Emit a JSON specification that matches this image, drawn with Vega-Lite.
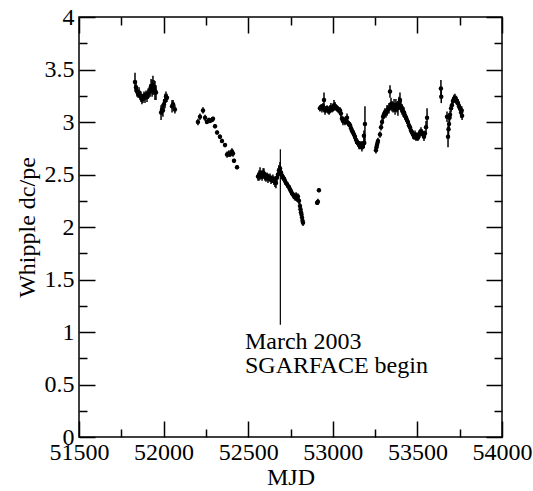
{
  "$schema": "https://vega.github.io/schema/vega-lite/v6.json",
  "width": 423,
  "height": 420,
  "autosize": {"type": "none"},
  "padding": {"left": 79, "top": 17, "right": 31, "bottom": 54},
  "background": "white",
  "datasets": {
    "pts": [
      {"mjd": 51831, "v": 3.38, "e": 0.09}, {"mjd": 51837, "v": 3.33, "e": 0.05}, {"mjd": 51843, "v": 3.29, "e": 0.05},
      {"mjd": 51849, "v": 3.27, "e": 0.04}, {"mjd": 51855, "v": 3.28, "e": 0.05}, {"mjd": 51861, "v": 3.25, "e": 0.04},
      {"mjd": 51866, "v": 3.24, "e": 0.05}, {"mjd": 51872, "v": 3.22, "e": 0.05}, {"mjd": 51878, "v": 3.22, "e": 0.04},
      {"mjd": 51884, "v": 3.25, "e": 0.04}, {"mjd": 51890, "v": 3.23, "e": 0.05}, {"mjd": 51896, "v": 3.26, "e": 0.04},
      {"mjd": 51902, "v": 3.24, "e": 0.05}, {"mjd": 51908, "v": 3.27, "e": 0.05}, {"mjd": 51914, "v": 3.28, "e": 0.05},
      {"mjd": 51920, "v": 3.30, "e": 0.06}, {"mjd": 51926, "v": 3.34, "e": 0.07}, {"mjd": 51932, "v": 3.32, "e": 0.08},
      {"mjd": 51937, "v": 3.35, "e": 0.09}, {"mjd": 51943, "v": 3.33, "e": 0.07}, {"mjd": 51949, "v": 3.30, "e": 0.09},
      {"mjd": 51955, "v": 3.28, "e": 0.07}, {"mjd": 51985, "v": 3.09, "e": 0.07}, {"mjd": 51991, "v": 3.12, "e": 0.05},
      {"mjd": 51996, "v": 3.11, "e": 0.06}, {"mjd": 52002, "v": 3.17, "e": 0.05}, {"mjd": 52008, "v": 3.20, "e": 0.07},
      {"mjd": 52014, "v": 3.24, "e": 0.05}, {"mjd": 52020, "v": 3.23, "e": 0.04}, {"mjd": 52050, "v": 3.15, "e": 0.06},
      {"mjd": 52056, "v": 3.17, "e": 0.04}, {"mjd": 52067, "v": 3.12, "e": 0.04},
      {"mjd": 52203, "v": 3.00, "e": 0.03}, {"mjd": 52215, "v": 3.05, "e": 0.03}, {"mjd": 52233, "v": 3.11, "e": 0.03},
      {"mjd": 52245, "v": 3.04, "e": 0.03}, {"mjd": 52256, "v": 3.00, "e": 0.02}, {"mjd": 52268, "v": 3.02, "e": 0.02},
      {"mjd": 52274, "v": 3.01, "e": 0.02}, {"mjd": 52286, "v": 3.02, "e": 0.02}, {"mjd": 52292, "v": 3.03, "e": 0.02},
      {"mjd": 52304, "v": 2.96, "e": 0.02}, {"mjd": 52316, "v": 2.90, "e": 0.02}, {"mjd": 52333, "v": 2.86, "e": 0.02},
      {"mjd": 52345, "v": 2.82, "e": 0.02}, {"mjd": 52363, "v": 2.78, "e": 0.02}, {"mjd": 52375, "v": 2.69, "e": 0.03},
      {"mjd": 52386, "v": 2.70, "e": 0.03}, {"mjd": 52392, "v": 2.69, "e": 0.02}, {"mjd": 52404, "v": 2.72, "e": 0.03},
      {"mjd": 52410, "v": 2.70, "e": 0.03}, {"mjd": 52416, "v": 2.63, "e": 0.02}, {"mjd": 52434, "v": 2.57, "e": 0.02},
      {"mjd": 52558, "v": 2.48, "e": 0.04}, {"mjd": 52564, "v": 2.49, "e": 0.05}, {"mjd": 52570, "v": 2.51, "e": 0.06},
      {"mjd": 52576, "v": 2.50, "e": 0.04}, {"mjd": 52582, "v": 2.48, "e": 0.04}, {"mjd": 52588, "v": 2.52, "e": 0.04},
      {"mjd": 52593, "v": 2.51, "e": 0.05}, {"mjd": 52599, "v": 2.48, "e": 0.04}, {"mjd": 52605, "v": 2.47, "e": 0.04},
      {"mjd": 52611, "v": 2.49, "e": 0.03}, {"mjd": 52617, "v": 2.46, "e": 0.04}, {"mjd": 52623, "v": 2.47, "e": 0.03},
      {"mjd": 52629, "v": 2.47, "e": 0.04}, {"mjd": 52635, "v": 2.45, "e": 0.04}, {"mjd": 52641, "v": 2.45, "e": 0.03},
      {"mjd": 52646, "v": 2.46, "e": 0.04}, {"mjd": 52652, "v": 2.44, "e": 0.04}, {"mjd": 52658, "v": 2.43, "e": 0.05},
      {"mjd": 52664, "v": 2.42, "e": 0.05}, {"mjd": 52670, "v": 2.47, "e": 0.04}, {"mjd": 52676, "v": 2.50, "e": 0.04},
      {"mjd": 52682, "v": 2.54, "e": 0.05}, {"mjd": 52688, "v": 2.56, "e": 0.06}, {"mjd": 52694, "v": 2.52, "e": 0.04},
      {"mjd": 52700, "v": 2.49, "e": 0.03}, {"mjd": 52706, "v": 2.47, "e": 0.03}, {"mjd": 52712, "v": 2.46, "e": 0.03},
      {"mjd": 52717, "v": 2.44, "e": 0.02}, {"mjd": 52723, "v": 2.42, "e": 0.02}, {"mjd": 52729, "v": 2.41, "e": 0.02},
      {"mjd": 52735, "v": 2.39, "e": 0.02}, {"mjd": 52741, "v": 2.38, "e": 0.02}, {"mjd": 52747, "v": 2.36, "e": 0.02},
      {"mjd": 52753, "v": 2.34, "e": 0.02}, {"mjd": 52759, "v": 2.32, "e": 0.02}, {"mjd": 52765, "v": 2.31, "e": 0.02},
      {"mjd": 52771, "v": 2.29, "e": 0.02}, {"mjd": 52777, "v": 2.28, "e": 0.03}, {"mjd": 52783, "v": 2.30, "e": 0.03},
      {"mjd": 52788, "v": 2.27, "e": 0.03}, {"mjd": 52794, "v": 2.29, "e": 0.03}, {"mjd": 52800, "v": 2.25, "e": 0.03},
      {"mjd": 52806, "v": 2.20, "e": 0.03}, {"mjd": 52809, "v": 2.17, "e": 0.03}, {"mjd": 52812, "v": 2.14, "e": 0.04},
      {"mjd": 52815, "v": 2.12, "e": 0.03}, {"mjd": 52818, "v": 2.09, "e": 0.04}, {"mjd": 52821, "v": 2.06, "e": 0.03},
      {"mjd": 52824, "v": 2.04, "e": 0.03}, {"mjd": 52907, "v": 2.23, "e": 0.02}, {"mjd": 52912, "v": 2.24, "e": 0.03},
      {"mjd": 52918, "v": 2.35, "e": 0.02},
      {"mjd": 52924, "v": 3.13, "e": 0.03}, {"mjd": 52930, "v": 3.14, "e": 0.03}, {"mjd": 52936, "v": 3.13, "e": 0.04},
      {"mjd": 52942, "v": 3.15, "e": 0.03}, {"mjd": 52948, "v": 3.21, "e": 0.07}, {"mjd": 52954, "v": 3.11, "e": 0.04},
      {"mjd": 52960, "v": 3.12, "e": 0.03}, {"mjd": 52966, "v": 3.13, "e": 0.03}, {"mjd": 52972, "v": 3.11, "e": 0.03},
      {"mjd": 52978, "v": 3.10, "e": 0.03}, {"mjd": 52984, "v": 3.13, "e": 0.03}, {"mjd": 52989, "v": 3.14, "e": 0.04},
      {"mjd": 52995, "v": 3.12, "e": 0.03}, {"mjd": 53001, "v": 3.13, "e": 0.03}, {"mjd": 53007, "v": 3.16, "e": 0.05},
      {"mjd": 53013, "v": 3.15, "e": 0.04}, {"mjd": 53019, "v": 3.14, "e": 0.03}, {"mjd": 53025, "v": 3.13, "e": 0.03},
      {"mjd": 53031, "v": 3.12, "e": 0.03}, {"mjd": 53037, "v": 3.11, "e": 0.03}, {"mjd": 53043, "v": 3.11, "e": 0.03},
      {"mjd": 53048, "v": 3.08, "e": 0.04}, {"mjd": 53054, "v": 3.03, "e": 0.03}, {"mjd": 53060, "v": 3.01, "e": 0.04},
      {"mjd": 53066, "v": 3.02, "e": 0.03}, {"mjd": 53072, "v": 3.00, "e": 0.03}, {"mjd": 53078, "v": 3.02, "e": 0.03},
      {"mjd": 53084, "v": 3.04, "e": 0.04}, {"mjd": 53090, "v": 2.99, "e": 0.03}, {"mjd": 53096, "v": 2.98, "e": 0.03},
      {"mjd": 53102, "v": 2.97, "e": 0.03}, {"mjd": 53108, "v": 2.94, "e": 0.04}, {"mjd": 53113, "v": 2.92, "e": 0.03},
      {"mjd": 53119, "v": 2.90, "e": 0.03}, {"mjd": 53125, "v": 2.88, "e": 0.04}, {"mjd": 53131, "v": 2.86, "e": 0.03},
      {"mjd": 53137, "v": 2.83, "e": 0.04}, {"mjd": 53143, "v": 2.81, "e": 0.03}, {"mjd": 53149, "v": 2.80, "e": 0.03},
      {"mjd": 53155, "v": 2.78, "e": 0.04}, {"mjd": 53161, "v": 2.77, "e": 0.03}, {"mjd": 53167, "v": 2.79, "e": 0.03},
      {"mjd": 53172, "v": 2.76, "e": 0.04}, {"mjd": 53178, "v": 2.78, "e": 0.04}, {"mjd": 53184, "v": 2.87, "e": 0.05},
      {"mjd": 53186, "v": 2.80, "e": 0.05}, {"mjd": 53190, "v": 2.98, "e": 0.17},
      {"mjd": 53255, "v": 2.73, "e": 0.03}, {"mjd": 53258, "v": 2.76, "e": 0.03}, {"mjd": 53261, "v": 2.78, "e": 0.03},
      {"mjd": 53264, "v": 2.80, "e": 0.03}, {"mjd": 53267, "v": 2.82, "e": 0.03}, {"mjd": 53279, "v": 2.88, "e": 0.03},
      {"mjd": 53285, "v": 2.95, "e": 0.03}, {"mjd": 53291, "v": 3.00, "e": 0.03}, {"mjd": 53297, "v": 3.05, "e": 0.04},
      {"mjd": 53302, "v": 3.07, "e": 0.04}, {"mjd": 53308, "v": 3.09, "e": 0.04}, {"mjd": 53314, "v": 3.08, "e": 0.04},
      {"mjd": 53320, "v": 3.11, "e": 0.05}, {"mjd": 53326, "v": 3.12, "e": 0.04}, {"mjd": 53332, "v": 3.13, "e": 0.05},
      {"mjd": 53338, "v": 3.29, "e": 0.06}, {"mjd": 53344, "v": 3.17, "e": 0.06}, {"mjd": 53350, "v": 3.15, "e": 0.05},
      {"mjd": 53356, "v": 3.14, "e": 0.05}, {"mjd": 53362, "v": 3.16, "e": 0.06}, {"mjd": 53368, "v": 3.12, "e": 0.05},
      {"mjd": 53373, "v": 3.16, "e": 0.06}, {"mjd": 53379, "v": 3.14, "e": 0.05}, {"mjd": 53385, "v": 3.13, "e": 0.07},
      {"mjd": 53391, "v": 3.18, "e": 0.06}, {"mjd": 53397, "v": 3.21, "e": 0.07}, {"mjd": 53403, "v": 3.15, "e": 0.06},
      {"mjd": 53409, "v": 3.12, "e": 0.05}, {"mjd": 53415, "v": 3.10, "e": 0.05}, {"mjd": 53421, "v": 3.09, "e": 0.05},
      {"mjd": 53427, "v": 3.06, "e": 0.04}, {"mjd": 53433, "v": 3.04, "e": 0.04}, {"mjd": 53438, "v": 3.02, "e": 0.04},
      {"mjd": 53444, "v": 3.00, "e": 0.03}, {"mjd": 53450, "v": 2.97, "e": 0.04}, {"mjd": 53456, "v": 2.95, "e": 0.03},
      {"mjd": 53462, "v": 2.92, "e": 0.03}, {"mjd": 53468, "v": 2.90, "e": 0.03}, {"mjd": 53474, "v": 2.88, "e": 0.04},
      {"mjd": 53480, "v": 2.86, "e": 0.03}, {"mjd": 53486, "v": 2.88, "e": 0.04}, {"mjd": 53492, "v": 2.85, "e": 0.03},
      {"mjd": 53497, "v": 2.87, "e": 0.03}, {"mjd": 53503, "v": 2.85, "e": 0.03}, {"mjd": 53509, "v": 2.88, "e": 0.04},
      {"mjd": 53515, "v": 2.89, "e": 0.04}, {"mjd": 53521, "v": 2.91, "e": 0.04}, {"mjd": 53527, "v": 2.90, "e": 0.03},
      {"mjd": 53533, "v": 2.88, "e": 0.03}, {"mjd": 53539, "v": 2.86, "e": 0.04}, {"mjd": 53545, "v": 2.89, "e": 0.03},
      {"mjd": 53551, "v": 2.95, "e": 0.06}, {"mjd": 53557, "v": 3.04, "e": 0.09},
      {"mjd": 53639, "v": 3.32, "e": 0.08}, {"mjd": 53641, "v": 3.24, "e": 0.06}, {"mjd": 53675, "v": 3.05, "e": 0.05},
      {"mjd": 53681, "v": 2.86, "e": 0.10}, {"mjd": 53684, "v": 2.93, "e": 0.06}, {"mjd": 53687, "v": 2.98, "e": 0.05},
      {"mjd": 53690, "v": 3.04, "e": 0.04}, {"mjd": 53693, "v": 3.07, "e": 0.04}, {"mjd": 53699, "v": 3.13, "e": 0.04},
      {"mjd": 53704, "v": 3.16, "e": 0.04}, {"mjd": 53710, "v": 3.20, "e": 0.04}, {"mjd": 53716, "v": 3.22, "e": 0.04},
      {"mjd": 53722, "v": 3.23, "e": 0.04}, {"mjd": 53728, "v": 3.21, "e": 0.04}, {"mjd": 53734, "v": 3.20, "e": 0.04},
      {"mjd": 53740, "v": 3.18, "e": 0.04}, {"mjd": 53746, "v": 3.15, "e": 0.04}, {"mjd": 53752, "v": 3.13, "e": 0.04},
      {"mjd": 53758, "v": 3.09, "e": 0.05}, {"mjd": 53764, "v": 3.06, "e": 0.04}, {"mjd": 53762, "v": 3.11, "e": 0.04}
    ],
    "marker": [{"mjd": 52690, "lo": 1.07, "hi": 2.74}],
    "label": [
      {"mjd": 52481, "v": 0.838, "t": "March 2003"},
      {"mjd": 52481, "v": 0.610, "t": "SGARFACE begin"}
    ]
  },
  "layer": [
    {
      "data": {"name": "pts"},
      "mark": {"type": "errorbar", "color": "black", "thickness": 1.5},
      "encoding": {
        "x": {"field": "mjd", "type": "quantitative",
              "scale": {"domain": [51500, 54000], "nice": false, "zero": false},
              "axis": {"orient": "bottom", "values": [51500, 52000, 52500, 53000, 53500, 54000], "format": "d",
                       "tickSize": -16, "labelPadding": 19, "title": "MJD", "titleY": 47, "titleBaseline": "alphabetic"}},
        "y": {"field": "v", "type": "quantitative",
              "scale": {"domain": [0, 4], "nice": false, "zero": false},
              "axis": {"orient": "left", "values": [0, 0.5, 1, 1.5, 2, 2.5, 3, 3.5, 4], "format": "~g",
                       "tickSize": -16, "labelPadding": 21, "title": "Whipple dc/pe", "titleX": -45, "titleY": 210,
                       "titleAngle": -90, "titleBaseline": "alphabetic", "titleAlign": "center"}},
        "yError": {"field": "e"}
      }
    },
    {
      "data": {"name": "pts"},
      "mark": {"type": "point", "filled": true, "color": "black", "size": 20, "opacity": 1},
      "encoding": {
        "x": {"field": "mjd", "type": "quantitative",
              "axis": {"orient": "top", "values": [51500, 52000, 52500, 53000, 53500, 54000],
                       "tickSize": -16, "labels": false, "title": null}},
        "y": {"field": "v", "type": "quantitative",
              "axis": {"orient": "right", "values": [0, 0.5, 1, 1.5, 2, 2.5, 3, 3.5, 4],
                       "tickSize": -16, "labels": false, "title": null}}
      }
    },
    {
      "data": {"name": "marker"},
      "mark": {"type": "rule", "color": "black", "strokeWidth": 1.2},
      "encoding": {
        "x": {"field": "mjd", "type": "quantitative",
              "axis": {"orient": "bottom", "values": [51750, 52250, 52750, 53250, 53750],
                       "tickSize": -8, "labels": false, "title": null}},
        "y": {"field": "lo", "type": "quantitative",
              "axis": {"orient": "left", "values": [0.25, 0.75, 1.25, 1.75, 2.25, 2.75, 3.25, 3.75],
                       "tickSize": -8, "labels": false, "title": null}},
        "y2": {"field": "hi"}
      }
    },
    {
      "data": {"name": "label"},
      "mark": {"type": "text", "align": "left", "baseline": "alphabetic", "font": "Liberation Serif, Times New Roman, serif", "fontSize": 24, "color": "black"},
      "encoding": {
        "x": {"field": "mjd", "type": "quantitative",
              "axis": {"orient": "top", "values": [51750, 52250, 52750, 53250, 53750],
                       "tickSize": -8, "labels": false, "title": null}},
        "y": {"field": "v", "type": "quantitative",
              "axis": {"orient": "right", "values": [0.25, 0.75, 1.25, 1.75, 2.25, 2.75, 3.25, 3.75],
                       "tickSize": -8, "labels": false, "title": null}},
        "text": {"field": "t"}
      }
    }
  ],
  "resolve": {"axis": {"x": "independent", "y": "independent"}},
  "config": {
    "font": "Liberation Serif, Times New Roman, serif",
    "view": {"stroke": "black", "strokeWidth": 1.5},
    "axis": {
      "grid": false, "domain": false, "tickColor": "black", "tickWidth": 1.5,
      "labelColor": "black", "titleColor": "black",
      "labelFont": "Liberation Serif, Times New Roman, serif", "titleFont": "Liberation Serif, Times New Roman, serif",
      "labelFontSize": 24, "titleFontSize": 24, "titleFontWeight": "normal",
      "labelFlush": false, "labelOverlap": false, "labelBound": false
    }
  }
}
